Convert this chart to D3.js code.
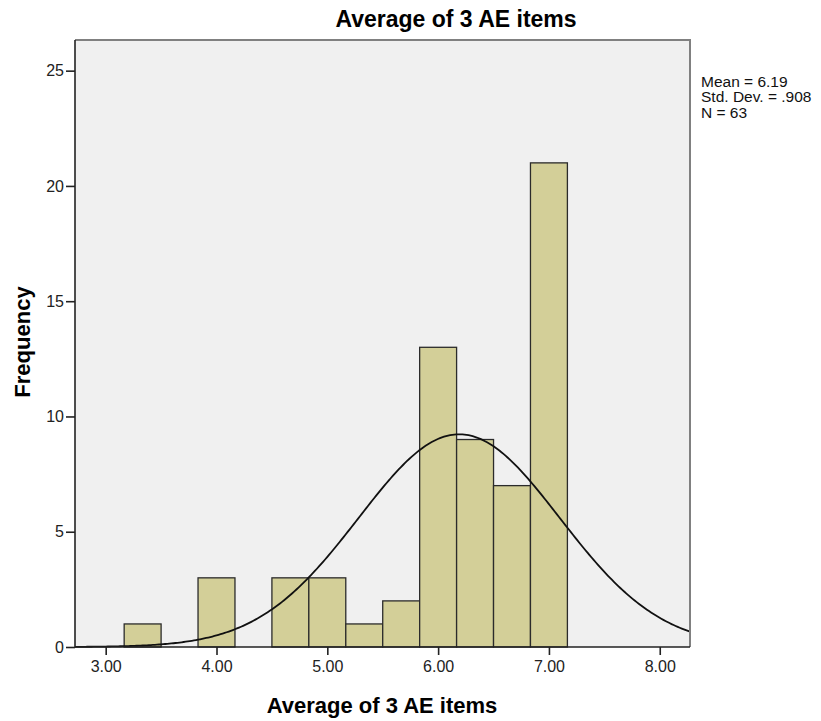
<!DOCTYPE html>
<html>
<head>
  <meta charset="utf-8">
  <script src="https://d3js.org/d3.v7.min.js"></script>
  <style>
    body { margin: 0; background: #fff; }
    svg text { font-family: "Liberation Sans", Arial, sans-serif; }
    .tick text { fill: #222; font-size: 16px; }
  </style>
</head>
<body>
  <svg id="chart" width="821" height="721"></svg>
  <script>

    // histogram bins (lower edges, width 1/3) and counts
    var binStarts = [3.1667, 3.5, 3.8333, 4.1667, 4.5, 4.8333, 5.1667, 5.5, 5.8333, 6.1667, 6.5, 6.8333];
    var binWidth = 1 / 3;
    var counts = [1, 0, 3, 0, 3, 3, 1, 2, 13, 9, 7, 21];

    var xTicks = [3, 4, 5, 6, 7, 8];
    var yTicks = [0, 5, 10, 15, 20, 25];

    var mean = 6.19, sd = 0.908, n = 63;
    var statLines = ["Mean = 6.19", "Std. Dev. = .908", "N = 63"];

    var svg = d3.select("#chart");
    var plotL = 75, plotR = 690, plotT = 40, plotB = 647;

    var x = d3.scaleLinear().domain([2.723, 8.273]).range([plotL, plotR]);
    var y = d3.scaleLinear().domain([0, 26.33]).range([plotB, plotT]);

    svg.append("rect")
        .attr("x", plotL).attr("y", plotT)
        .attr("width", plotR - plotL).attr("height", plotB - plotT)
        .attr("fill", "#f0f0f0");

    var bins = binStarts.map(function(s, i) { return {x0: s, x1: s + binWidth, n: counts[i]}; })
        .filter(function(d) { return d.n > 0; });

    svg.append("g").selectAll("rect")
      .data(bins)
      .enter().append("rect")
        .attr("x", function(d) { return x(d.x0); })
        .attr("y", function(d) { return y(d.n); })
        .attr("width", function(d) { return x(d.x1) - x(d.x0); })
        .attr("height", function(d) { return y(0) - y(d.n); })
        .attr("fill", "#d3cf98")
        .attr("stroke", "#2b2b2b")
        .attr("stroke-width", 1.3);

    // fitted normal curve
    var curve = d3.range(0, 301).map(function(i) {
      var v = x.domain()[0] + (x.domain()[1] - x.domain()[0]) * i / 300;
      var f = n * binWidth * Math.exp(-0.5 * Math.pow((v - mean) / sd, 2)) / (sd * Math.sqrt(2 * Math.PI));
      return [v, f];
    });

    svg.append("path")
        .datum(curve)
        .attr("fill", "none")
        .attr("stroke", "#111")
        .attr("stroke-width", 1.8)
        .attr("d", d3.line().x(function(d) { return x(d[0]); }).y(function(d) { return y(d[1]); }));

    // frame: top and right in gray
    svg.append("path")
        .attr("d", "M" + plotL + "," + plotT + "H" + plotR + "V" + plotB)
        .attr("fill", "none")
        .attr("stroke", "#808080")
        .attr("stroke-width", 2);

    var xAxis = svg.append("g")
        .attr("transform", "translate(0," + plotB + ")")
        .call(d3.axisBottom(x).tickValues(xTicks).tickFormat(d3.format(".2f")).tickSize(8).tickPadding(6));

    var yAxis = svg.append("g")
        .attr("transform", "translate(" + plotL + ",0)")
        .call(d3.axisLeft(y).tickValues(yTicks).tickSize(9).tickPadding(2));

    [xAxis, yAxis].forEach(function(a) {
      a.select(".domain").attr("stroke", "#222").attr("stroke-width", 1.6);
      a.selectAll(".tick line").attr("stroke", "#222").attr("stroke-width", 1.6);
      a.selectAll(".tick text").attr("font-family", null).attr("font-size", null);
    });
    yAxis.select(".domain").attr("d", "M0," + plotB + "V" + plotT);
    xAxis.select(".domain").attr("d", "M" + plotL + ",0H" + plotR);

    svg.append("text")
        .attr("x", 456).attr("y", 27)
        .attr("text-anchor", "middle")
        .attr("font-size", 23).attr("font-weight", "bold")
        .text("Average of 3 AE items");

    svg.append("text")
        .attr("x", 382).attr("y", 713)
        .attr("text-anchor", "middle")
        .attr("font-size", 22).attr("font-weight", "bold")
        .text("Average of 3 AE items");

    svg.append("text")
        .attr("transform", "translate(30,342) rotate(-90)")
        .attr("text-anchor", "middle")
        .attr("font-size", 22).attr("font-weight", "bold")
        .text("Frequency");

    svg.append("g").selectAll("text")
      .data(statLines)
      .enter().append("text")
        .attr("x", 701)
        .attr("y", function(d, i) { return 86.5 + i * 15.5; })
        .attr("font-size", 15.5)
        .attr("fill", "#111")
        .text(function(d) { return d; });

  </script>
</body>
</html>
